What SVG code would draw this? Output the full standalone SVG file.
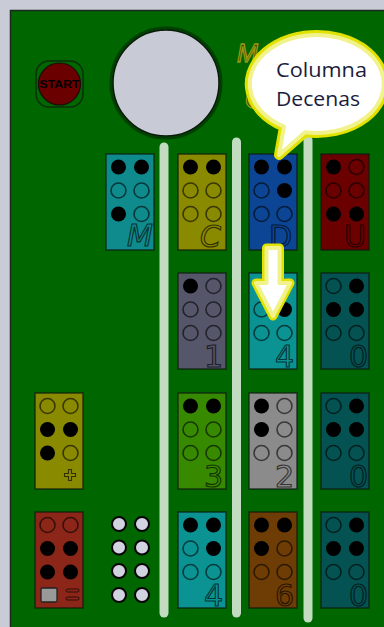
<svg xmlns="http://www.w3.org/2000/svg" width="384" height="627" viewBox="0 0 384 627">
<defs>
<style>
.cellbox{stroke:#0d1a0d;stroke-opacity:0.75;stroke-width:1.5}
.on{fill:#000}
.off{fill:none;stroke:#000;stroke-opacity:0.6;stroke-width:1.6}
.lbl{font-family:"DejaVu Sans","Liberation Sans",sans-serif;font-size:30px;fill:none;stroke:#000;stroke-opacity:0.65;stroke-width:1.2;text-anchor:end}
.col{stroke:#c2dcc2;stroke-width:9;stroke-linecap:round;fill:none}
.wdot{fill:#d2d3e0;stroke:#050505;stroke-width:2}
.bubtxt{font-family:"Open Sans","Noto Sans",sans-serif;font-size:20px;fill:#1b1d3c}
.hdr{font-family:"Liberation Sans",sans-serif;font-style:italic;font-size:25px;fill:#3c3c00;stroke:#9a9a10;stroke-width:1.3}
</style>
</defs>
<rect x="0" y="0" width="384" height="627" fill="#c9cbd7"/>
<rect x="10.5" y="10.5" width="380" height="620" fill="#006600" stroke="#1c2a1c" stroke-width="1.5"/>

<g id="columns">
<line class="col" x1="164" y1="147" x2="164" y2="613"/>
<line class="col" x1="236.5" y1="142" x2="236.5" y2="613"/>
<line class="col" x1="308" y1="140" x2="308" y2="618"/>
</g>

<g id="start">
<rect x="36" y="61" width="47" height="46" rx="13" fill="none" stroke="#0b300b" stroke-width="1.5"/>
<circle cx="59.5" cy="84" r="21" fill="#6b0000" stroke="#1a0a0a" stroke-width="1.2"/>
<text x="59.5" y="87.5" text-anchor="middle" font-family="Liberation Sans, sans-serif" font-size="10" font-weight="bold" fill="#000" textLength="40" lengthAdjust="spacingAndGlyphs">START</text>
</g>

<g id="dial">
<circle cx="166" cy="83" r="55" fill="none" stroke="#004000" stroke-width="3"/>
<circle cx="166" cy="83" r="53" fill="#c8cad6" stroke="#0a1a0a" stroke-width="1.5"/>
</g>

<g id="header-letters">
<text class="hdr" x="237" y="62">M</text>
<text class="hdr" x="245" y="108">C</text>
</g>

<!-- Row 1 -->
<g id="cell-M" transform="translate(106,154)">
<rect class="cellbox" width="48" height="96" fill="#0f8b8d"/>
<circle class="on" cx="12.5" cy="13" r="7.5"/><circle class="on" cx="35.5" cy="13" r="7.5"/>
<circle class="off" cx="12.5" cy="36.5" r="7.5"/><circle class="off" cx="35.5" cy="36.5" r="7.5"/>
<circle class="on" cx="12.5" cy="60" r="7.5"/><circle class="off" cx="35.5" cy="60" r="7.5"/>
<text class="lbl" x="47" y="92" font-style="italic" font-size="29">M</text>
</g>
<g id="cell-C" transform="translate(178,154)">
<rect class="cellbox" width="48" height="96" fill="#8a8a00"/>
<circle class="on" cx="12.5" cy="13" r="7.5"/><circle class="on" cx="35.5" cy="13" r="7.5"/>
<circle class="off" cx="12.5" cy="36.5" r="7.5"/><circle class="off" cx="35.5" cy="36.5" r="7.5"/>
<circle class="off" cx="12.5" cy="60" r="7.5"/><circle class="off" cx="35.5" cy="60" r="7.5"/>
<text class="lbl" x="43" y="93" font-style="italic" font-size="28">C</text>
</g>
<g id="cell-D" transform="translate(249,154)">
<rect class="cellbox" width="48" height="96" fill="#0c4593"/>
<circle class="on" cx="12.5" cy="13" r="7.5"/><circle class="on" cx="35.5" cy="13" r="7.5"/>
<circle class="off" cx="12.5" cy="36.5" r="7.5"/><circle class="on" cx="35.5" cy="36.5" r="7.5"/>
<circle class="off" cx="12.5" cy="60" r="7.5"/><circle class="off" cx="35.5" cy="60" r="7.5"/>
<text class="lbl" x="43" y="93" font-size="28">D</text>
</g>
<g id="cell-U" transform="translate(321,154)">
<rect class="cellbox" width="48" height="96" fill="#6a0000"/>
<circle class="on" cx="12.5" cy="13" r="7.5"/><circle class="off" cx="35.5" cy="13" r="7.5"/>
<circle class="off" cx="12.5" cy="36.5" r="7.5"/><circle class="off" cx="35.5" cy="36.5" r="7.5"/>
<circle class="on" cx="12.5" cy="60" r="7.5"/><circle class="on" cx="35.5" cy="60" r="7.5"/>
<text class="lbl" x="45" y="93" font-size="28">U</text>
</g>

<!-- Row 2 -->
<g id="cell-1" transform="translate(178,273)">
<rect class="cellbox" width="48" height="96" fill="#55566a"/>
<circle class="on" cx="12.5" cy="13" r="7.5"/><circle class="off" cx="35.5" cy="13" r="7.5"/>
<circle class="off" cx="12.5" cy="36.5" r="7.5"/><circle class="off" cx="35.5" cy="36.5" r="7.5"/>
<circle class="off" cx="12.5" cy="60" r="7.5"/><circle class="off" cx="35.5" cy="60" r="7.5"/>
<text class="lbl" x="45" y="94">1</text>
</g>
<g id="cell-4a" transform="translate(249,273)">
<rect class="cellbox" width="48" height="96" fill="#0b9393"/>
<circle class="on" cx="12.5" cy="13" r="7.5"/><circle class="on" cx="35.5" cy="13" r="7.5"/>
<circle class="off" cx="12.5" cy="36.5" r="7.5"/><circle class="on" cx="35.5" cy="36.5" r="7.5"/>
<circle class="off" cx="12.5" cy="60" r="7.5"/><circle class="off" cx="35.5" cy="60" r="7.5"/>
<text class="lbl" x="45" y="94">4</text>
</g>
<g id="cell-0a" transform="translate(321,273)">
<rect class="cellbox" width="48" height="96" fill="#045252"/>
<circle class="off" cx="12.5" cy="13" r="7.5"/><circle class="on" cx="35.5" cy="13" r="7.5"/>
<circle class="on" cx="12.5" cy="36.5" r="7.5"/><circle class="on" cx="35.5" cy="36.5" r="7.5"/>
<circle class="off" cx="12.5" cy="60" r="7.5"/><circle class="off" cx="35.5" cy="60" r="7.5"/>
<text class="lbl" x="47" y="94">0</text>
</g>

<!-- Row 3 -->
<g id="cell-plus" transform="translate(35,393)">
<rect class="cellbox" width="48" height="96" fill="#8a8a00"/>
<circle class="off" cx="12.5" cy="13" r="7.5"/><circle class="off" cx="35.5" cy="13" r="7.5"/>
<circle class="on" cx="12.5" cy="36.5" r="7.5"/><circle class="on" cx="35.5" cy="36.5" r="7.5"/>
<circle class="on" cx="12.5" cy="60" r="7.5"/><circle class="off" cx="35.5" cy="60" r="7.5"/>
<path d="M33.5,76.5 h3 v4 h4 v3 h-4 v4 h-3 v-4 h-4 v-3 h4 z" fill="none" stroke="#000" stroke-opacity="0.65" stroke-width="1.1"/>
</g>
<g id="cell-3" transform="translate(178,393)">
<rect class="cellbox" width="48" height="96" fill="#378a00"/>
<circle class="on" cx="12.5" cy="13" r="7.5"/><circle class="on" cx="35.5" cy="13" r="7.5"/>
<circle class="off" cx="12.5" cy="36.5" r="7.5"/><circle class="off" cx="35.5" cy="36.5" r="7.5"/>
<circle class="off" cx="12.5" cy="60" r="7.5"/><circle class="off" cx="35.5" cy="60" r="7.5"/>
<text class="lbl" x="45" y="94">3</text>
</g>
<g id="cell-2" transform="translate(249,393)">
<rect class="cellbox" width="48" height="96" fill="#8b8b8b"/>
<circle class="on" cx="12.5" cy="13" r="7.5"/><circle class="off" cx="35.5" cy="13" r="7.5"/>
<circle class="on" cx="12.5" cy="36.5" r="7.5"/><circle class="off" cx="35.5" cy="36.5" r="7.5"/>
<circle class="off" cx="12.5" cy="60" r="7.5"/><circle class="off" cx="35.5" cy="60" r="7.5"/>
<text class="lbl" x="45" y="94">2</text>
</g>
<g id="cell-0b" transform="translate(321,393)">
<rect class="cellbox" width="48" height="96" fill="#045252"/>
<circle class="off" cx="12.5" cy="13" r="7.5"/><circle class="on" cx="35.5" cy="13" r="7.5"/>
<circle class="on" cx="12.5" cy="36.5" r="7.5"/><circle class="on" cx="35.5" cy="36.5" r="7.5"/>
<circle class="off" cx="12.5" cy="60" r="7.5"/><circle class="off" cx="35.5" cy="60" r="7.5"/>
<text class="lbl" x="47" y="94">0</text>
</g>

<!-- Row 4 -->
<g id="cell-equals" transform="translate(35,512)">
<rect class="cellbox" width="48" height="96" fill="#8b2618"/>
<circle class="off" cx="12.5" cy="13" r="7.5"/><circle class="off" cx="35.5" cy="13" r="7.5"/>
<circle class="on" cx="12.5" cy="36.5" r="7.5"/><circle class="on" cx="35.5" cy="36.5" r="7.5"/>
<circle class="on" cx="12.5" cy="60" r="7.5"/><circle class="on" cx="35.5" cy="60" r="7.5"/>
<rect x="6" y="76" width="16" height="14" rx="1.5" fill="#999" stroke="#222" stroke-width="1.3"/>
<rect x="31" y="77" width="13" height="3" rx="1.5" fill="none" stroke="#000" stroke-opacity="0.65" stroke-width="1"/>
<rect x="31" y="85" width="13" height="3" rx="1.5" fill="none" stroke="#000" stroke-opacity="0.65" stroke-width="1"/>
</g>
<g id="cell-4b" transform="translate(178,512)">
<rect class="cellbox" width="48" height="96" fill="#0b9393"/>
<circle class="on" cx="12.5" cy="13" r="7.5"/><circle class="on" cx="35.5" cy="13" r="7.5"/>
<circle class="off" cx="12.5" cy="36.5" r="7.5"/><circle class="on" cx="35.5" cy="36.5" r="7.5"/>
<circle class="off" cx="12.5" cy="60" r="7.5"/><circle class="off" cx="35.5" cy="60" r="7.5"/>
<text class="lbl" x="45" y="94">4</text>
</g>
<g id="cell-6" transform="translate(249,512)">
<rect class="cellbox" width="48" height="96" fill="#6e3d05"/>
<circle class="on" cx="12.5" cy="13" r="7.5"/><circle class="on" cx="35.5" cy="13" r="7.5"/>
<circle class="on" cx="12.5" cy="36.5" r="7.5"/><circle class="off" cx="35.5" cy="36.5" r="7.5"/>
<circle class="off" cx="12.5" cy="60" r="7.5"/><circle class="off" cx="35.5" cy="60" r="7.5"/>
<text class="lbl" x="45" y="94">6</text>
</g>
<g id="cell-0c" transform="translate(321,512)">
<rect class="cellbox" width="48" height="96" fill="#045252"/>
<circle class="off" cx="12.5" cy="13" r="7.5"/><circle class="on" cx="35.5" cy="13" r="7.5"/>
<circle class="on" cx="12.5" cy="36.5" r="7.5"/><circle class="on" cx="35.5" cy="36.5" r="7.5"/>
<circle class="off" cx="12.5" cy="60" r="7.5"/><circle class="off" cx="35.5" cy="60" r="7.5"/>
<text class="lbl" x="47" y="94">0</text>
</g>

<g id="white-dots">
<circle class="wdot" cx="119" cy="524" r="7"/><circle class="wdot" cx="142" cy="524" r="7"/>
<circle class="wdot" cx="119" cy="547.5" r="7"/><circle class="wdot" cx="142" cy="547.5" r="7"/>
<circle class="wdot" cx="119" cy="571" r="7"/><circle class="wdot" cx="142" cy="571" r="7"/>
<circle class="wdot" cx="119" cy="595" r="7"/><circle class="wdot" cx="142" cy="595" r="7"/>
</g>

<g id="connectors">
<path d="M266.5,248 H279.5 V283 H290 L273,316 L256,283 H266.5 Z" fill="none" stroke="#e2e200" stroke-width="9" stroke-linejoin="round"/>
<path d="M266.5,248 H279.5 V283 H290 L273,316 L256,283 H266.5 Z" fill="#ffffff" stroke="#f2f28c" stroke-width="4" stroke-linejoin="round"/>
</g>

<g id="callout">
<path d="M284,126.7 L279,155 L305,132.2 A67 49 0 1 0 284,126.7 Z" fill="none" stroke="#e2e200" stroke-width="10" stroke-linejoin="round"/>
<path d="M284,126.7 L279,155 L305,132.2 A67 49 0 1 0 284,126.7 Z" fill="#ffffff" stroke="#f2f28c" stroke-width="4" stroke-linejoin="round"/>
<text class="bubtxt" x="276" y="77" textLength="91" lengthAdjust="spacingAndGlyphs">Columna</text>
<text class="bubtxt" x="276" y="106" textLength="84" lengthAdjust="spacingAndGlyphs">Decenas</text>
</g>
</svg>
